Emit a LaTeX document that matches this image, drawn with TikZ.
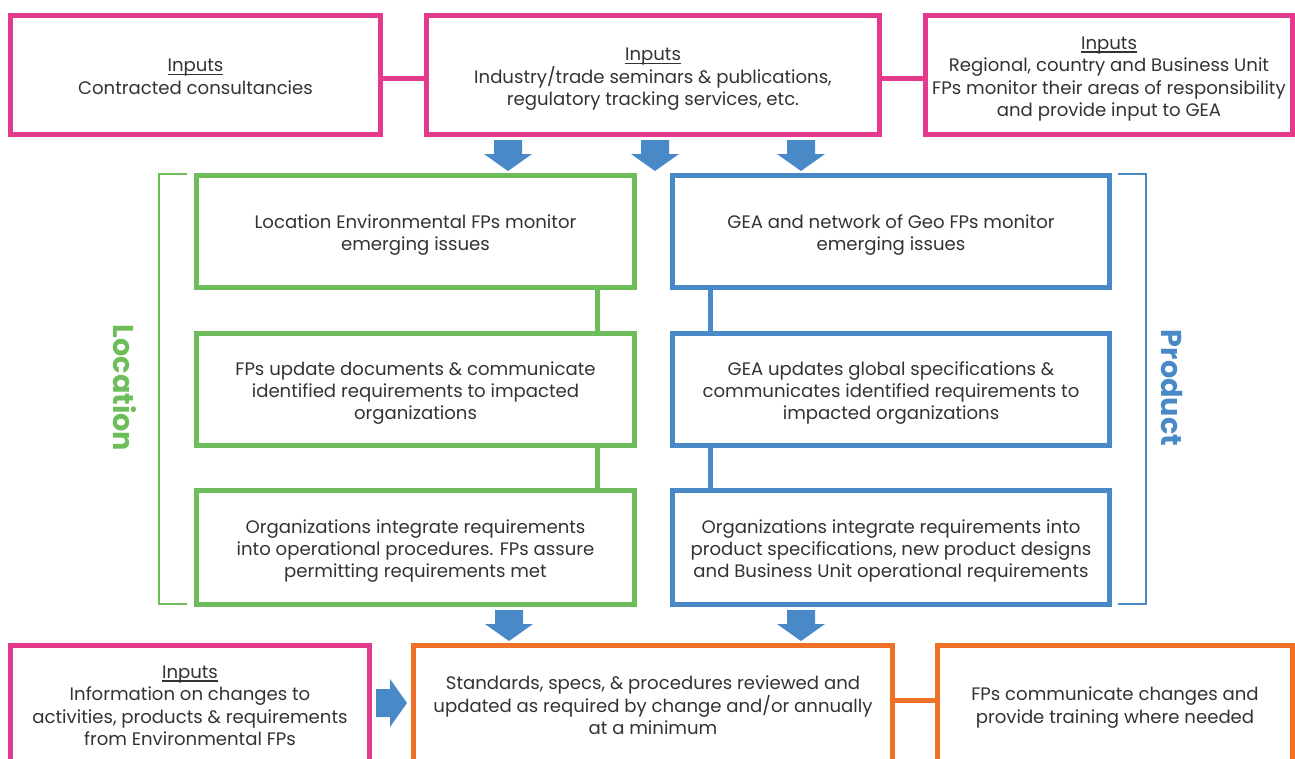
\documentclass[tikz,border=0pt]{standalone}
\usepackage{fontspec}
\setmainfont{Poppins}
\usetikzlibrary{calc}
\definecolor{inpink}{HTML}{E33A8B}
\definecolor{locgreen}{HTML}{6DBE5B}
\definecolor{prodblue}{HTML}{4A89C8}
\definecolor{revorange}{HTML}{F07028}
\definecolor{bodytext}{HTML}{333333}
% thin underline close to the baseline, not adding depth to the line
\newcommand\headul[1]{\setbox0\hbox{#1}\rlap{\vrule height -1.9pt depth 3.0pt width \wd0}\box0}
% fixed first-line height and last-line depth, so each text block sits alike in its box
\newcommand\topstrut{\rule{0pt}{21pt}}
\newcommand\botstrut{\rule[-5pt]{0pt}{5pt}}
\begin{document}
\begin{tikzpicture}[x=1pt,y=-1pt,
  box/.style={draw,line width=5pt,fill=white,align=center,inner sep=0pt,
    text=bodytext,font=\fontsize{18.1}{22.3}\selectfont,
    execute at end node=\botstrut},
  pinkbox/.style={box,draw=inpink},
  greenbox/.style={box,draw=locgreen},
  bluebox/.style={box,draw=prodblue},
  orangebox/.style={box,draw=revorange},
  link/.style={line width=5pt},
  bracket/.style={line width=2pt},
  sidelabel/.style={font=\fontsize{28.7}{28.7}\selectfont\bfseries,rotate=-90,inner sep=0pt},
  dnarrow/.pic={\fill[prodblue] (-14,0) -- (14,0) -- (14,14) -- (24,14) -- (0,31)
      -- (-24,14) -- (-14,14) -- cycle;},
  rtarrow/.pic={\fill[prodblue] (0,-14) -- (14,-14) -- (14,-24) -- (31,0)
      -- (14,24) -- (14,14) -- (0,14) -- cycle;}
]
\useasboundingbox (0,0) rectangle (1295,758);
\clip (0,0) rectangle (1295,758);

% input sources, top row
\node[pinkbox,minimum width=370pt,minimum height=119pt] (A) at (195.5,75)
  {\topstrut\headul{Inputs}\\Contracted consultancies};
\node[pinkbox,minimum width=453pt,minimum height=119pt] (B) at (653,75)
  {\topstrut\headul{Inputs}\\Industry/trade seminars \& publications,\\regulatory tracking services, etc.};
\node[pinkbox,minimum width=367pt,minimum height=119pt] (C) at (1109,75)
  {\topstrut\headul{Inputs}\\Regional, country and Business Unit\\FPs monitor their areas of responsibility\\and provide input to GEA};
\draw[link,inpink] ([yshift=-3pt]A.east) -- ([yshift=-3pt]B.west);
\draw[link,inpink] ([yshift=-3pt]B.east) -- ([yshift=-3pt]C.west);

% feed arrows into the two columns
\pic at (508,140) {dnarrow};
\pic at (655,140) {dnarrow};
\pic at (801,140) {dnarrow};

% location column
\node[greenbox,minimum width=438pt,minimum height=112pt] (G1) at (415.5,231.5)
  {\topstrut Location Environmental FPs monitor\\emerging issues};
\node[greenbox,minimum width=438pt,minimum height=112pt] (G2) at (415.5,389.5)
  {\topstrut FPs update documents \& communicate\\identified requirements to impacted\\organizations};
\node[greenbox,minimum width=438pt,minimum height=114pt] (G3) at (415.5,547.5)
  {\topstrut Organizations integrate requirements\\into operational procedures. FPs assure\\permitting requirements met};
\coordinate (gx) at (597,0);
\draw[link,locgreen] (G1.south -| gx) -- (G2.north -| gx);
\draw[link,locgreen] (G2.south -| gx) -- (G3.north -| gx);

% product column
\node[bluebox,minimum width=437pt,minimum height=112pt] (P1) at (891,231.5)
  {\topstrut GEA and network of Geo FPs monitor\\emerging issues};
\node[bluebox,minimum width=437pt,minimum height=112pt] (P2) at (891,389.5)
  {\topstrut GEA updates global specifications \&\\communicates identified requirements to\\impacted organizations};
\node[bluebox,minimum width=437pt,minimum height=114pt] (P3) at (891,547.5)
  {\topstrut Organizations integrate requirements into\\product specifications, new product designs\\and Business Unit operational requirements};
\coordinate (bx) at (710,0);
\draw[link,prodblue] (P1.south -| bx) -- (P2.north -| bx);
\draw[link,prodblue] (P2.south -| bx) -- (P3.north -| bx);

% side brackets and labels
\coordinate (lt) at (187,174);
\coordinate (lb) at (187,604);
\draw[bracket,locgreen] (lt) -- (159,174) -- (159,604) -- (lb);
\node[sidelabel,text=locgreen] (loc) at (125,388) {Location};
\coordinate (rt) at (1118,174);
\coordinate (rb) at (1118,604);
\draw[bracket,prodblue] (rt) -- (1146,174) -- (1146,604) -- (rb);
\node[sidelabel,text=prodblue] (prod) at (1172,388) {Product};

% arrows into the review step
\pic at (509,610) {dnarrow};
\pic at (801,610) {dnarrow};

% bottom row
\node[pinkbox,minimum width=359pt,minimum height=117pt] (D) at (190,704)
  {\topstrut\headul{Inputs}\\Information on changes to\\activities, products \& requirements\\from Environmental FPs};
\node[orangebox,minimum width=479pt,minimum height=117pt] (E) at (653,704)
  {\topstrut Standards, specs, \& procedures reviewed and\\updated as required by change and/or annually\\at a minimum};
\node[orangebox,minimum width=355pt,minimum height=117pt] (F) at (1115,704)
  {\topstrut FPs communicate changes and\\provide training where needed};
\draw[link,revorange] ([yshift=4pt]E.east) -- ([yshift=4pt]F.west);
\pic at (376,703) {rtarrow};
\end{tikzpicture}
\end{document}
